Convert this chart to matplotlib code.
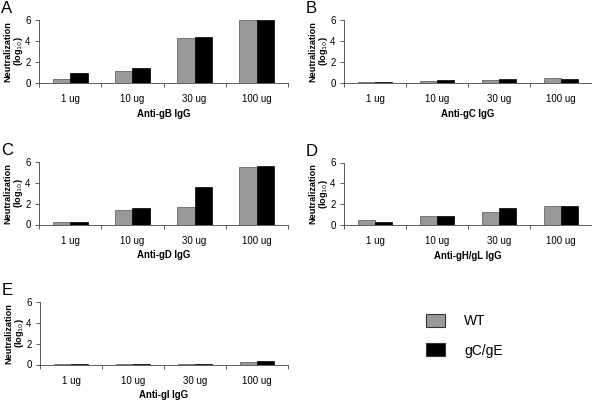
import numpy as np
import matplotlib.pyplot as plt
from matplotlib.patches import Patch

plt.rcParams['font.family'] = ['Liberation Sans', 'DejaVu Sans']

doses = ['1 ug', '10 ug', '30 ug', '100 ug']
letters = ['A', 'B', 'C', 'D', 'E']
antibodies = ['Anti-gB IgG', 'Anti-gC IgG', 'Anti-gD IgG', 'Anti-gH/gL IgG', 'Anti-gI IgG']

wt_gB = [0.38, 1.14, 4.25, 6.0]
mut_gB = [1.0, 1.43, 4.4, 6.0]
wt_gC = [0.05, 0.15, 0.25, 0.45]
mut_gC = [0.1, 0.25, 0.4, 0.42]
wt_gD = [0.22, 1.4, 1.7, 5.5]
mut_gD = [0.22, 1.6, 3.6, 5.65]
wt_gHgL = [0.48, 0.86, 1.21, 1.85]
mut_gHgL = [0.26, 0.83, 1.63, 1.79]
wt_gI = [0.05, 0.05, 0.06, 0.25]
mut_gI = [0.05, 0.08, 0.08, 0.3]

wt_all = [wt_gB, wt_gC, wt_gD, wt_gHgL, wt_gI]
mut_all = [mut_gB, mut_gC, mut_gD, mut_gHgL, mut_gI]

gray = '#999999'

fig = plt.figure(figsize=(5.92, 4), dpi=100)

# axes boxes in pixels: left, top, right, bottom
boxes = [(39, 20, 288, 83), (344, 20, 592, 83),
         (39, 162, 288, 224.5), (344, 162.5, 592, 225),
         (40, 302, 288, 364.5)]
W, H = 592.0, 400.0

x = np.arange(len(doses)) + 0.5
bw = 0.28

for i in range(5):
    l, t, r, b = boxes[i]
    ax = fig.add_axes([l / W, 1 - b / H, (r - l) / W, (b - t) / H])
    ax.bar(x - bw / 2, wt_all[i], bw, color=gray, edgecolor='#555555', linewidth=0.5)
    ax.bar(x + bw / 2, mut_all[i], bw, color='black', edgecolor='black', linewidth=0.5)
    ax.set_xlim(0, 4)
    ax.set_ylim(0, 6)
    ax.set_yticks([0, 2, 4, 6])
    ax.set_xticks(np.arange(0, 5))
    ax.set_xticklabels([])
    ax.set_xticks(x, minor=True)
    ax.set_xticklabels(doses, minor=True)
    ax.tick_params(axis='x', which='minor', length=0, pad=8, labelsize=7)
    ax.tick_params(axis='x', which='major', length=3, width=0.6, color='#444444')
    ax.tick_params(axis='y', length=3, width=0.6, color='#444444', labelsize=7, pad=3)
    for s in ['top', 'right']:
        ax.spines[s].set_visible(False)
    for s in ['left', 'bottom']:
        ax.spines[s].set_linewidth(0.6)
        ax.spines[s].set_color('#444444')
    ax.set_xlabel(antibodies[i], fontsize=6.9, fontweight='bold', labelpad=3.5)
    ax.set_ylabel('Neutralization\n(log$_{10}$)', fontsize=6.6, fontweight='bold',
                  linespacing=1.0)
    # right edge of the y label sits 14 px left of the axis line
    ax.yaxis.set_label_coords(-14.0 / (r - l), 0.5)
    fig.text((l - 38) / W, 1 - (t - 19) / H, letters[i], fontsize=12,
             va='top', ha='left')

handles = [Patch(facecolor=gray, edgecolor='#333333', linewidth=0.8),
           Patch(facecolor='black', edgecolor='#333333', linewidth=0.8)]
fig.legend(handles, ['WT', 'gC/gE'], loc='upper left', bbox_to_anchor=(413 / W, 1 - 301 / H),
           frameon=False, fontsize=10, handlelength=1.4, handleheight=1.1,
           labelspacing=1.1, handletextpad=1.4)

fig.savefig('out.png', dpi=100)
